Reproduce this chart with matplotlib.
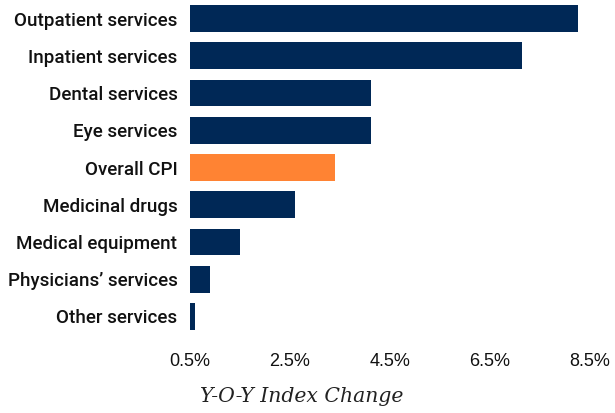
import matplotlib.pyplot as plt
import numpy as np

categories = ['Outpatient services', 'Inpatient services', 'Dental services', 'Eye services',
              'Overall CPI', 'Medicinal drugs', 'Medical equipment', 'Physicians\u2019 services',
              'Other services']
values = [8.26, 7.14, 4.12, 4.12, 3.40, 2.60, 1.50, 0.90, 0.60]
tick_values = [0.5, 2.5, 4.5, 6.5, 8.5]
tick_labels = ['0.5%', '2.5%', '4.5%', '6.5%', '8.5%']

navy = '#002856'
orange = '#FF8333'
colors = [orange if c == 'Overall CPI' else navy for c in categories]

fig = plt.figure(figsize=(6.15, 4.13), dpi=100)
ax = fig.add_axes([190 / 615, 1 - 335 / 413, 400 / 615, 335 / 413])

y = np.arange(len(categories))
ax.barh(y, values, height=0.72, color=colors, left=0)
ax.set_ylim(len(categories) - 0.5, -0.5)
ax.set_xlim(0.5, 8.5)
ax.set_yticks(y)
ax.set_yticklabels(categories, fontsize=13.5, family='Roboto', weight='medium', color='#111111')
ax.set_xticks(tick_values)
ax.set_xticklabels(tick_labels, fontsize=13, family='Liberation Sans', color='#111111')
ax.tick_params(axis='both', length=0)
ax.tick_params(axis='y', pad=9)
ax.tick_params(axis='x', pad=13)
for s in ax.spines.values():
    s.set_visible(False)

fig.text(302 / 615, 1 - 397 / 413, 'Y-O-Y Index Change', ha='center', va='center',
         fontsize=14.7, family='DejaVu Serif', style='italic', color='#222222')

fig.savefig('out.png', dpi=100)
